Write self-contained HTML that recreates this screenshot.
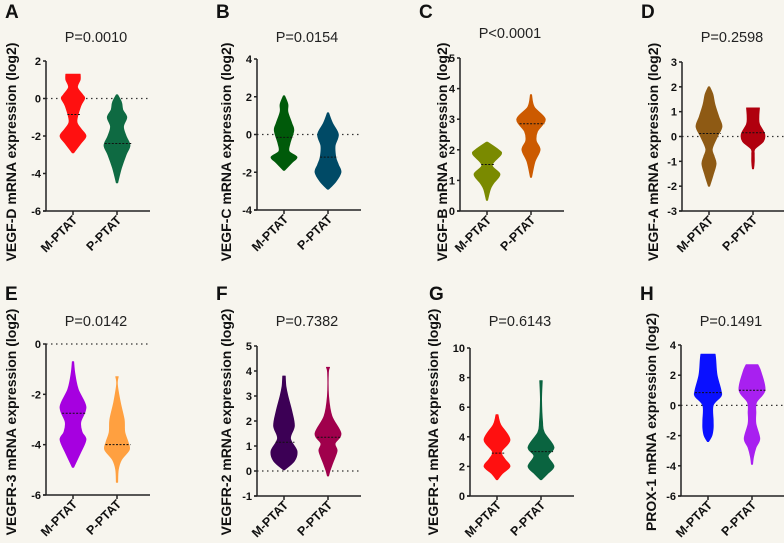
<!DOCTYPE html>
<html><head><meta charset="utf-8">
<style>
html,body{margin:0;padding:0;background:#f7f5ee;}
svg{display:block;font-family:"Liberation Sans",Arial,sans-serif;}
</style></head>
<body>
<svg id="fig" width="784" height="543" viewBox="0 0 784 543">
<rect width="784" height="543" fill="#f7f5ee"/>
</svg>
<script>
const panelLetters = ["A","B","C","D","E","F","G","H"];
const pValues = ["P=0.0010","P=0.0154","P<0.0001","P=0.2598","P=0.0142","P=0.7382","P=0.6143","P=0.1491"];
const yTitles = ["VEGF-D mRNA expression (log2)","VEGF-C mRNA expression (log2)","VEGF-B mRNA expression (log2)","VEGF-A mRNA expression (log2)","VEGFR-3 mRNA expression (log2)","VEGFR-2 mRNA expression (log2)","VEGFR-1 mRNA expression (log2)","PROX-1 mRNA expression (log2)"];
const categories = ["M-PTAT","P-PTAT"];
const yMins = [-6,-4,0,-3,-6,-1,0,-6];
const yMaxs = [2,4,5,3,0,5,10,4];
const yStepTicks = [2,2,1,1,2,1,2,2];
const zeroLines = [true,true,false,true,true,true,false,true];
const colorsM = ["#ff1010","#005a0a","#7a8a00","#8e5a14","#a600e0","#3c0055","#ff1010","#0a10ff"];
const colorsP = ["#0e6a42","#004a66","#cc5a00","#b0000e","#ffa040","#a0004c","#0a6440","#a820f0"];
const mediansM = [-0.85,-0.15,1.52,0.12,-2.75,1.15,2.9,0.85];
const mediansP = [-2.4,-1.2,2.85,0.15,-4.0,1.35,3.0,1.0];
const profileValuesM = [
 [1.3,1.0,0.6,0.2,0,-0.4,-1.2,-1.6,-2.0,-2.4,-2.9],
 [2.05,1.6,1.2,0.6,0.2,-0.5,-0.9,-1.2,-1.5,-1.9],
 [2.25,2.0,1.85,1.5,1.2,0.9,0.7,0.35],
 [2.0,1.7,1.3,0.8,0.4,0,-0.5,-0.8,-1.1,-1.5,-2.0],
 [-0.7,-1.2,-1.8,-2.5,-3.1,-3.5,-3.8,-4.3,-4.9],
 [3.8,3.4,3.0,2.4,1.8,1.3,0.8,0.4,0.05],
 [5.5,5.2,4.8,3.8,3.0,2.5,2.0,1.5,1.1],
 [3.4,3.0,2.0,1.0,0.6,0,-1.0,-1.5,-2.0,-2.4]];
const profileWidthsM = [
 [0.55,0.55,0.35,0.75,0.9,0.6,0.3,0.6,1.0,0.6,0.05],
 [0.05,0.3,0.3,0.6,0.75,0.45,0.4,1.0,0.6,0.05],
 [0.05,0.9,1.1,0.4,1.0,0.5,0.25,0.05],
 [0.05,0.3,0.45,0.75,1.0,0.65,0.25,0.4,0.55,0.35,0.05],
 [0.05,0.15,0.4,1.0,0.6,0.7,1.0,0.6,0.05],
 [0.1,0.15,0.3,0.6,0.8,0.5,1.0,0.8,0.05],
 [0.08,0.15,0.3,1.0,0.35,0.6,1.0,0.4,0.05],
 [0.55,0.6,0.7,1.0,1.0,0.4,0.4,0.4,0.3,0.05]];
const profileValuesP = [
 [0.2,-0.2,-0.6,-1.0,-1.5,-2.0,-2.5,-3.0,-3.7,-4.5],
 [1.15,0.6,0.0,-0.6,-1.2,-1.6,-2.0,-2.5,-2.9],
 [3.8,3.4,3.0,2.6,2.3,2.0,1.6,1.1],
 [1.15,0.8,0.5,0.1,-0.2,-0.5,-0.7,-1.0,-1.3],
 [-1.3,-1.6,-2.3,-3.0,-3.5,-3.9,-4.2,-4.6,-5.0,-5.5],
 [4.15,3.9,3.0,2.2,1.5,1.1,0.8,0.3,0.0,-0.2],
 [7.8,6.5,5.0,4.3,3.3,2.7,2.0,1.5,1.1],
 [2.7,2.2,1.0,0.2,-0.5,-1.2,-2.2,-2.8,-3.4,-3.9]];
const profileWidthsP = [
 [0.05,0.35,0.45,0.75,0.5,0.7,1.0,0.7,0.35,0.05],
 [0.05,0.35,0.8,0.55,0.6,0.8,1.0,0.6,0.05],
 [0.05,0.25,1.1,0.5,0.4,0.7,0.3,0.05],
 [0.5,0.45,0.5,0.9,0.8,0.15,0.1,0.1,0.05],
 [0.1,0.03,0.25,0.55,0.6,0.85,0.95,0.35,0.1,0.05],
 [0.12,0.03,0.05,0.3,1.0,0.55,0.7,0.35,0.15,0.05],
 [0.1,0.05,0.12,0.25,1.0,0.55,1.0,0.5,0.05],
 [0.45,0.7,1.0,0.35,0.3,0.3,0.6,0.3,0.12,0.05]];

const axisXs = [46,257,460,682,46,257,470,681];
const axisTops = [61,59,58,62,344,346,348,345];
const axisBots = [211,210,211,211,495,496,496,496];
const titleXs = [16,231,447,658,16,231,438,656];
const NS = "http://www.w3.org/2000/svg";
const svg = document.getElementById("fig");
function mk(tag, attrs, parent){const e=document.createElementNS(NS,tag);for(const k in attrs)e.setAttribute(k,attrs[k]);(parent||svg).appendChild(e);return e;}
function smoothSide(pts){
  // Catmull-Rom through pts, returns path segments (without initial M)
  let d="";
  for(let j=0;j<pts.length-1;j++){
    const p0=pts[Math.max(0,j-1)],p1=pts[j],p2=pts[j+1],p3=pts[Math.min(pts.length-1,j+2)];
    const c1=[p1[0]+(p2[0]-p0[0])/6,p1[1]+(p2[1]-p0[1])/6];
    const c2=[p2[0]-(p3[0]-p1[0])/6,p2[1]-(p3[1]-p1[1])/6];
    d+=` C${c1[0].toFixed(1)},${c1[1].toFixed(1)} ${c2[0].toFixed(1)},${c2[1].toFixed(1)} ${p2[0].toFixed(1)},${p2[1].toFixed(1)}`;
  }
  return d;
}

for(let i=0;i<8;i++){
  const g=mk("g",{});
  
  
  const ax=axisXs[i], top=axisTops[i], bot=axisBots[i];
  const right=ax+104;
  const rowTop = i<4?0:270;
  const y=v=>bot-(v-yMins[i])/(yMaxs[i]-yMins[i])*(bot-top);
  const cx=[ax+27,ax+71];
  const lt=mk("text",{x:ax-41,y:i<4?18:300,"font-size":"19","font-weight":"bold",fill:"#111"},g);
  lt.textContent=panelLetters[i];
  
  
  const pt=mk("text",{x:ax+50,y:i<4?(i==2?38:42):326,"font-size":"14.5","text-anchor":"middle",fill:"#222"},g);
  pt.textContent=pValues[i];
  
  
  const yc=i<4?152:422;
  const yt=mk("text",{x:0,y:0,"font-size":"14","font-weight":"bold","text-anchor":"middle",fill:"#111",transform:`translate(${titleXs[i]},${yc}) rotate(-90)`},g);
  yt.textContent=yTitles[i];
  
  
  if(zeroLines[i]){
    const zl=mk("line",{x1:ax,x2:right,y1:y(0),y2:y(0),stroke:"#333","stroke-width":"1.2","stroke-dasharray":"1.5,3.5"},g);
    
    
  }
  const profs=[[profileValuesM[i],profileWidthsM[i],colorsM[i],mediansM[i]],[profileValuesP[i],profileWidthsP[i],colorsP[i],mediansP[i]]];
  profs.forEach((p,k)=>{
    const vals=p[0], ws=p[1], H=13;
    const rightP=vals.map((v,j)=>[cx[k]+ws[j]*H,y(v)]);
    const leftP=vals.map((v,j)=>[cx[k]-ws[j]*H,y(v)]).reverse();
    const yTop=y(vals[0]), yBot=y(vals[vals.length-1]);
    let d=`M${cx[k]},${yTop.toFixed(1)} L${rightP[0][0].toFixed(1)},${yTop.toFixed(1)}`+smoothSide(rightP)+
      ` L${cx[k]},${yBot.toFixed(1)} L${leftP[0][0].toFixed(1)},${leftP[0][1].toFixed(1)}`+smoothSide(leftP)+" Z";
    const vp=mk("path",{d:d,fill:p[2],stroke:p[2],"stroke-width":"0.8","stroke-linejoin":"round"},g);
    
    
    const m=p[3];let w=0.5;
    for(let j=0;j<vals.length-1;j++){if(m<=vals[j]&&m>=vals[j+1]){const t=(vals[j]-m)/(vals[j]-vals[j+1]||1);w=ws[j]+(ws[j+1]-ws[j])*t;}}
    const ml=mk("line",{x1:cx[k]-w*H,x2:cx[k]+w*H+2,y1:y(m),y2:y(m),stroke:"#111","stroke-width":"1","stroke-dasharray":"2,1.5"},g);
    
    
  });
  const ya=mk("line",{x1:ax,x2:ax,y1:top,y2:bot,stroke:"#222","stroke-width":"1.5"},g);
  
  
  const xa=mk("line",{x1:ax-3,x2:right,y1:bot,y2:bot,stroke:"#222","stroke-width":"1.5"},g);
  
  
  for(let v=yMins[i];v<=yMaxs[i]+1e-9;v+=yStepTicks[i]){
    const tk=mk("line",{x1:ax-3,x2:ax,y1:y(v),y2:y(v),stroke:"#222","stroke-width":"1.5"},g);
    
    
    const tl=mk("text",{x:ax-5,y:y(v)+4,"font-size":"11","font-weight":"bold","text-anchor":"end",fill:"#111"},g);
    tl.textContent=String(v);
    
    
  }
  categories.forEach((c,k)=>{
    const tk=mk("line",{x1:cx[k],x2:cx[k],y1:bot,y2:bot+4,stroke:"#222","stroke-width":"1.5"},g);
    
    
    const cl=mk("text",{x:0,y:0,"font-size":"12.5","font-weight":"bold","text-anchor":"end",fill:"#111",transform:`translate(${cx[k]+5},${bot+10}) rotate(-45)`},g);
    cl.textContent=c;
    
    
  });
}
</script>
</body></html>
